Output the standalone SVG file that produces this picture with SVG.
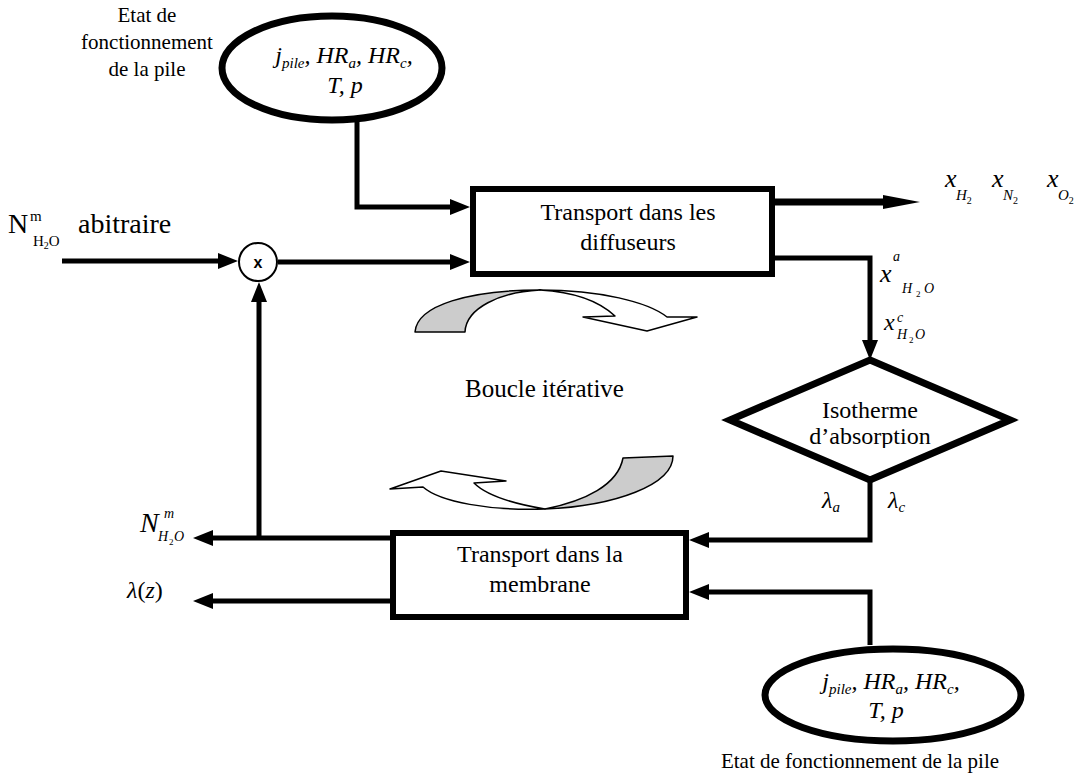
<svg xmlns="http://www.w3.org/2000/svg" width="1078" height="778" viewBox="0 0 1078 778">
<style>
text{font-family:"Liberation Serif","Times New Roman",serif;fill:#000}
.t{font-size:24px}
.lb{font-size:21px}
.it{font-style:italic}
.sub{font-size:15px}
.s2{font-size:10px;font-style:normal}
.node{fill:#fff;stroke:#000;stroke-width:6}
.ell{fill:#fff;stroke:#000;stroke-width:7}
.con{fill:none;stroke:#000;stroke-width:5}
.curv{stroke:#000;stroke-width:1.5;stroke-linejoin:round}
</style>
<defs>
<marker id="ah" markerUnits="userSpaceOnUse" viewBox="0 0 20 16" markerWidth="20" markerHeight="16" refX="10" refY="8" orient="auto"><path d="M0,0 L20,8 L0,16 Z" fill="#000"/></marker>
<marker id="ah2" markerUnits="userSpaceOnUse" viewBox="0 0 37 14" markerWidth="37" markerHeight="14" refX="2" refY="7" orient="auto"><path d="M0,0 L37,7 L0,14 Z" fill="#000"/></marker>
<clipPath id="dclip"><rect x="700" y="340" width="340" height="108"/></clipPath>
</defs>
<rect width="1078" height="778" fill="#fff"/>

<g id="connectors">
<path class="con" d="M357,121 V207 H460" marker-end="url(#ah)"/>
<path class="con" d="M62,261 H228" marker-end="url(#ah)"/>
<path class="con" d="M278,262 H460" marker-end="url(#ah)"/>
<path class="con" d="M775,202 H885" style="stroke-width:7" marker-end="url(#ah2)"/>
<path class="con" d="M775,258 H870 V350" marker-end="url(#ah)"/>
<path class="con" d="M870,480 V540 H699" marker-end="url(#ah)"/>
<path class="con" d="M870,645 V592 H699" marker-end="url(#ah)"/>
<path class="con" d="M390,538 H203" marker-end="url(#ah)"/>
<path class="con" d="M390,601 H203" marker-end="url(#ah)"/>
<path class="con" d="M259,538 V292" marker-end="url(#ah)"/>
</g>

<g id="etat-top">
<text class="lb" x="147" y="22" text-anchor="middle">Etat de</text>
<text class="lb" x="147" y="49" text-anchor="middle">fonctionnement</text>
<text class="lb" x="147" y="76" text-anchor="middle">de la pile</text>
<ellipse class="ell" cx="332" cy="68" rx="110" ry="52"/>
<text class="t it" x="344" y="63" text-anchor="middle">j<tspan class="sub" dy="5">pile</tspan><tspan dy="-5">, HR</tspan><tspan class="sub" dy="5">a</tspan><tspan dy="-5">, HR</tspan><tspan class="sub" dy="5">c</tspan><tspan dy="-5">,</tspan></text>
<text class="t it" x="345" y="93" text-anchor="middle">T, p</text>
</g>

<g id="input">
<text style="font-size:28px" x="8" y="233">N</text>
<text class="sub" x="30" y="221">m</text>
<text class="sub" x="33" y="246">H<tspan style="font-size:10px" dy="3">2</tspan><tspan dy="-3">O</tspan></text>
<text style="font-size:28px" x="78" y="233">abitraire</text>
</g>

<g id="sum">
<circle cx="258" cy="262" r="19" fill="#fff" stroke="#000" stroke-width="2"/>
<text x="258" y="268" text-anchor="middle" style="font-family:'Liberation Sans',Arial,sans-serif;font-weight:bold;font-size:16px">x</text>
</g>

<g id="diffuseurs">
<rect class="node" x="473" y="189" width="299" height="85"/>
<text class="t" x="628" y="220" text-anchor="middle">Transport dans les</text>
<text class="t" x="628" y="250" text-anchor="middle">diffuseurs</text>
</g>

<g id="fractions">
<text class="it" style="font-size:26px" x="945" y="187">x</text>
<text class="it sub" x="956" y="200">H<tspan class="s2" dy="4">2</tspan></text>
<text class="it" style="font-size:26px" x="992" y="187">x</text>
<text class="it sub" x="1003" y="200">N<tspan class="s2" dy="4">2</tspan></text>
<text class="it" style="font-size:26px" x="1047" y="187">x</text>
<text class="it sub" x="1058" y="200">O<tspan class="s2" dy="4">2</tspan></text>
</g>

<g id="xh2o">
<text class="it" style="font-size:26px" x="880" y="282">x</text>
<text class="it" style="font-size:14px" x="893" y="261">a</text>
<text class="it" style="font-size:14px" x="902" y="293">H</text>
<text style="font-size:9px" x="916" y="297">2</text>
<text class="it" style="font-size:14px" x="924" y="293">O</text>
<text class="it" style="font-size:24px" x="884" y="330">x</text>
<text class="it" style="font-size:14px" x="897" y="322">c</text>
<text class="it" style="font-size:14px" x="897" y="339">H</text>
<text style="font-size:9px" x="909" y="343">2</text>
<text class="it" style="font-size:14px" x="915" y="339">O</text>
</g>

<g id="isotherme">
<polygon class="ell" points="870,360 1010,420 870,480 730,420"/>
<g clip-path="url(#dclip)">
<text class="t" x="870" y="418" text-anchor="middle">Isotherme</text>
<text class="t" x="870" y="444" text-anchor="middle">d’absorption</text>
</g>
</g>

<g id="lambdas">
<text class="t it" x="822" y="508">λ<tspan class="sub" dy="4">a</tspan></text>
<text class="t it" x="888" y="508">λ<tspan class="sub" dy="4">c</tspan></text>
</g>

<g id="boucle">
<path class="curv" fill="#cccccc" d="M415,332 C417,305 470,290 540,290 C500,292 466,308 465,332 Z"/>
<path class="curv" fill="#fff" d="M540,290 C600,290 648,302 667,317 L697,317 L647,331 L583,317 L615,316 C600,302 575,292 540,290 Z"/>
<text style="font-size:25px" x="465" y="397">Boucle itérative</text>
<path class="curv" fill="#cccccc" d="M623,458 L673,456 C673,485 615,506 545,509 C585,501 618,485 623,458 Z"/>
<path class="curv" fill="#fff" d="M545,509 C490,511 440,502 423,487 L390,489 L441,471 L506,481 L474,483 C487,496 515,504 545,509 Z"/>
</g>

<g id="membrane">
<rect class="node" x="393" y="533" width="293" height="84"/>
<text class="t" x="540" y="562" text-anchor="middle">Transport dans la</text>
<text class="t" x="540" y="592" text-anchor="middle">membrane</text>
</g>

<g id="outputs">
<text class="it" style="font-size:28px" x="140" y="532">N</text>
<text class="it" style="font-size:14px" x="164" y="518">m</text>
<text class="it" style="font-size:14px" x="158" y="541">H</text>
<text style="font-size:9px" x="169" y="545">2</text>
<text class="it" style="font-size:14px" x="174" y="541">O</text>
<text class="t" x="127" y="598"><tspan class="it">λ</tspan>(<tspan class="it">z</tspan>)</text>
</g>

<g id="etat-bottom">
<ellipse class="ell" cx="893" cy="695" rx="128" ry="46"/>
<text class="t it" x="891" y="689" text-anchor="middle">j<tspan class="sub" dy="5">pile</tspan><tspan dy="-5">, HR</tspan><tspan class="sub" dy="5">a</tspan><tspan dy="-5">, HR</tspan><tspan class="sub" dy="5">c</tspan><tspan dy="-5">,</tspan></text>
<text class="t it" x="886" y="718" text-anchor="middle">T, p</text>
<text class="lb" x="860" y="768" text-anchor="middle">Etat de fonctionnement de la pile</text>
</g>
</svg>
